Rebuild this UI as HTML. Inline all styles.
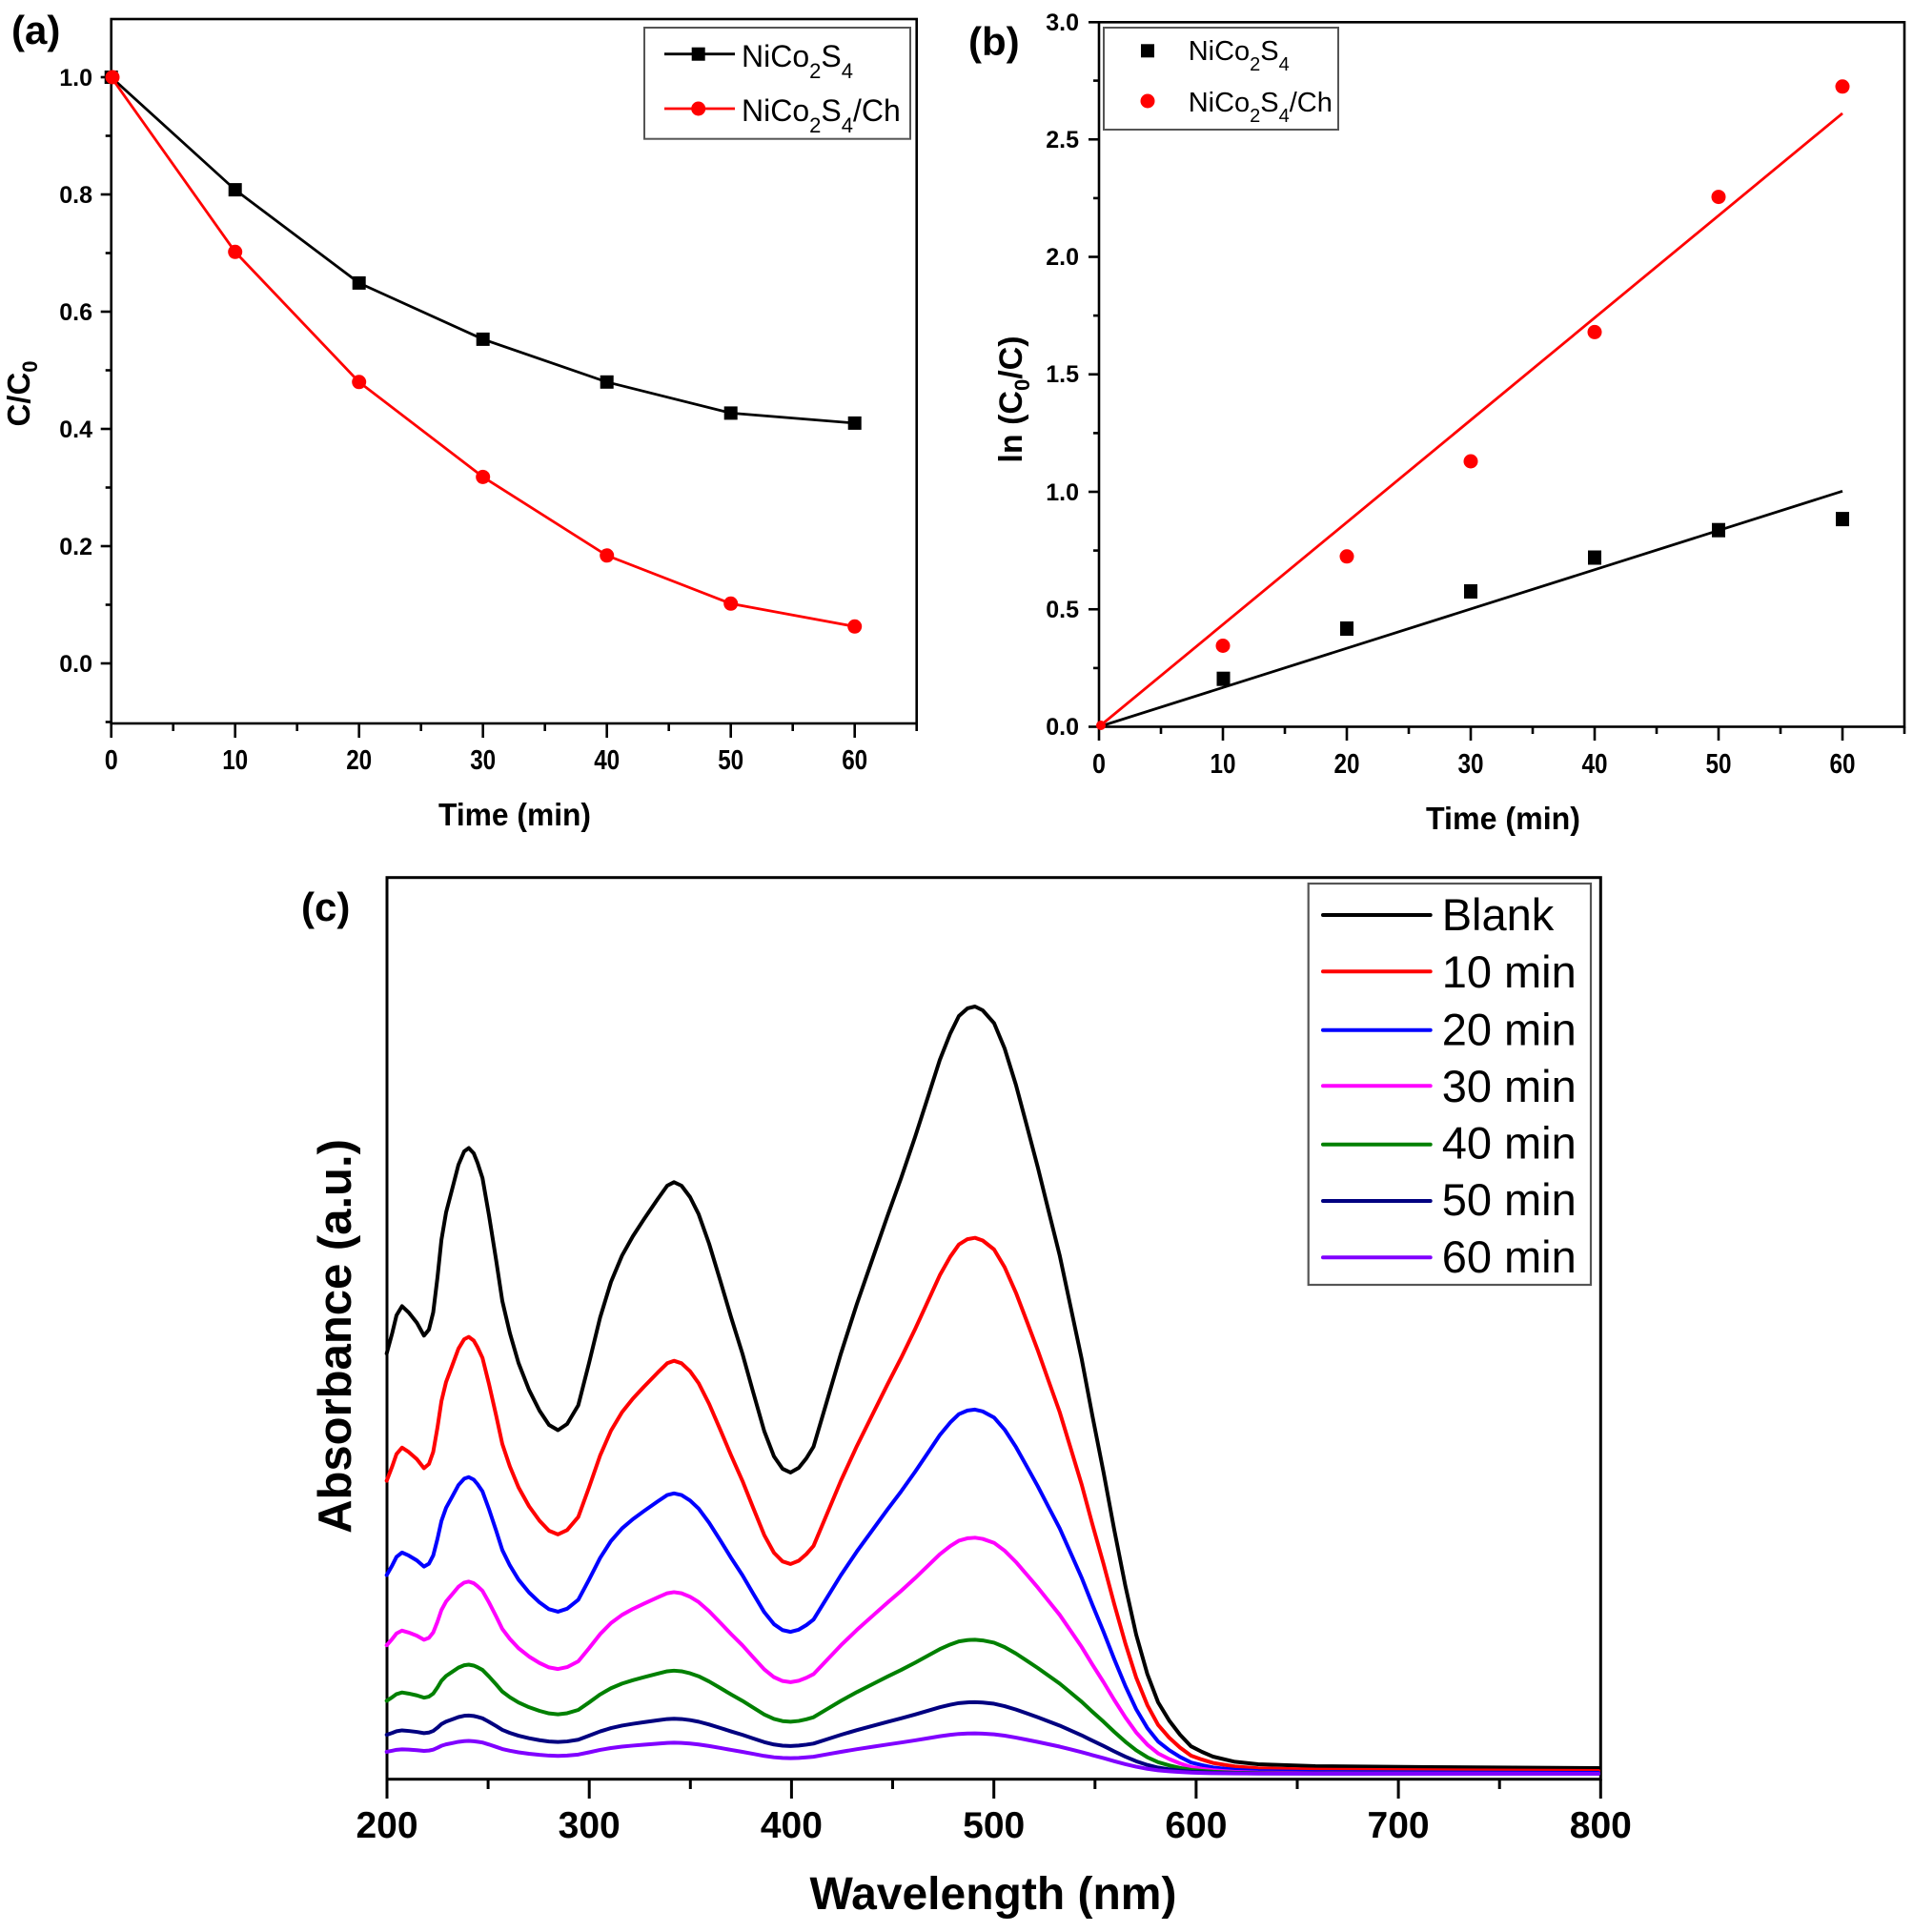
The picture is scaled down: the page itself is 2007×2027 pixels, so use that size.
<!DOCTYPE html>
<html>
<head>
<meta charset="utf-8">
<style>
html,body{margin:0;padding:0;background:#fff;}
svg{display:block;}
text{font-family:"Liberation Sans",Arial,sans-serif;}
</style>
</head>
<body>
<svg width="2007" height="2027" viewBox="0 0 2007 2027" xmlns="http://www.w3.org/2000/svg">
<rect x="0" y="0" width="2007" height="2027" fill="#fff"/>

<!-- ================= Panel (a) ================= -->
<text x="12" y="46" font-size="42" font-weight="bold">(a)</text>
<rect x="116.7" y="20" width="845" height="739" fill="none" stroke="#000" stroke-width="2.6"/>
<g stroke="#000" stroke-width="2.6">
  <line x1="116.7" y1="759" x2="116.7" y2="774"/>
  <line x1="246.7" y1="759" x2="246.7" y2="774"/>
  <line x1="376.7" y1="759" x2="376.7" y2="774"/>
  <line x1="506.7" y1="759" x2="506.7" y2="774"/>
  <line x1="636.7" y1="759" x2="636.7" y2="774"/>
  <line x1="766.7" y1="759" x2="766.7" y2="774"/>
  <line x1="896.7" y1="759" x2="896.7" y2="774"/>
  <line x1="181.7" y1="759" x2="181.7" y2="767"/>
  <line x1="311.7" y1="759" x2="311.7" y2="767"/>
  <line x1="441.7" y1="759" x2="441.7" y2="767"/>
  <line x1="571.7" y1="759" x2="571.7" y2="767"/>
  <line x1="701.7" y1="759" x2="701.7" y2="767"/>
  <line x1="831.7" y1="759" x2="831.7" y2="767"/>
  <line x1="961.7" y1="759" x2="961.7" y2="767"/>
  <line x1="105.7" y1="696" x2="116.7" y2="696"/>
  <line x1="105.7" y1="573" x2="116.7" y2="573"/>
  <line x1="105.7" y1="450" x2="116.7" y2="450"/>
  <line x1="105.7" y1="327" x2="116.7" y2="327"/>
  <line x1="105.7" y1="204" x2="116.7" y2="204"/>
  <line x1="105.7" y1="81" x2="116.7" y2="81"/>
  <line x1="110.7" y1="757.5" x2="116.7" y2="757.5"/>
  <line x1="110.7" y1="634.5" x2="116.7" y2="634.5"/>
  <line x1="110.7" y1="511.5" x2="116.7" y2="511.5"/>
  <line x1="110.7" y1="388.5" x2="116.7" y2="388.5"/>
  <line x1="110.7" y1="265.5" x2="116.7" y2="265.5"/>
  <line x1="110.7" y1="142.5" x2="116.7" y2="142.5"/>
</g>
<g font-size="29" font-weight="bold" text-anchor="middle">
  <text x="116.7" y="807" textLength="14" lengthAdjust="spacingAndGlyphs">0</text>
  <text x="246.7" y="807" textLength="27" lengthAdjust="spacingAndGlyphs">10</text>
  <text x="376.7" y="807" textLength="27" lengthAdjust="spacingAndGlyphs">20</text>
  <text x="506.7" y="807" textLength="27" lengthAdjust="spacingAndGlyphs">30</text>
  <text x="636.7" y="807" textLength="27" lengthAdjust="spacingAndGlyphs">40</text>
  <text x="766.7" y="807" textLength="27" lengthAdjust="spacingAndGlyphs">50</text>
  <text x="896.7" y="807" textLength="27" lengthAdjust="spacingAndGlyphs">60</text>
</g>
<g font-size="25" font-weight="bold" text-anchor="end">
  <text x="97" y="705">0.0</text>
  <text x="97" y="582">0.2</text>
  <text x="97" y="459">0.4</text>
  <text x="97" y="336">0.6</text>
  <text x="97" y="213">0.8</text>
  <text x="97" y="90">1.0</text>
</g>
<text x="540" y="866" font-size="33" font-weight="bold" text-anchor="middle" textLength="160" lengthAdjust="spacingAndGlyphs">Time (min)</text>
<text transform="translate(31,413) rotate(-90)" font-size="33" font-weight="bold" text-anchor="middle">C/C<tspan font-size="22" dy="8">0</tspan></text>

<polyline points="116.7,81 246.7,199.1 376.7,296.9 506.7,355.9 636.7,400.8 766.7,433.4 896.7,443.9" fill="none" stroke="#000" stroke-width="2.8"/>
<g fill="#000">
  <rect x="109.7" y="74" width="14" height="14"/>
  <rect x="239.7" y="192.1" width="14" height="14"/>
  <rect x="369.7" y="289.9" width="14" height="14"/>
  <rect x="499.7" y="348.9" width="14" height="14"/>
  <rect x="629.7" y="393.8" width="14" height="14"/>
  <rect x="759.7" y="426.4" width="14" height="14"/>
  <rect x="889.7" y="436.9" width="14" height="14"/>
</g>
<polyline points="116.7,81 246.7,264.3 376.7,400.8 506.7,500.4 636.7,582.8 766.7,633.3 896.7,657.3" fill="none" stroke="#f00" stroke-width="2.8"/>
<g fill="#f00">
  <circle cx="118" cy="81" r="7.5"/>
  <circle cx="246.7" cy="264.3" r="7.5"/>
  <circle cx="376.7" cy="400.8" r="7.5"/>
  <circle cx="506.7" cy="500.4" r="7.5"/>
  <circle cx="636.7" cy="582.8" r="7.5"/>
  <circle cx="766.7" cy="633.3" r="7.5"/>
  <circle cx="896.7" cy="657.3" r="7.5"/>
</g>
<rect x="676" y="29" width="279" height="116.7" fill="#fff" stroke="#555" stroke-width="2"/>
<line x1="697" y1="56.7" x2="771" y2="56.7" stroke="#000" stroke-width="2.8"/>
<rect x="725.7" y="49.7" width="14" height="14" fill="#000"/>
<line x1="697" y1="114" x2="771" y2="114" stroke="#f00" stroke-width="2.8"/>
<circle cx="732.7" cy="114" r="7.5" fill="#f00"/>
<text x="778" y="70" font-size="32">NiCo<tspan font-size="22" dy="12">2</tspan><tspan dy="-12">S</tspan><tspan font-size="22" dy="12">4</tspan></text>
<text x="778" y="127" font-size="32">NiCo<tspan font-size="22" dy="12">2</tspan><tspan dy="-12">S</tspan><tspan font-size="22" dy="12">4</tspan><tspan dy="-12">/Ch</tspan></text>

<!-- ================= Panel (b) ================= -->
<text x="1016" y="58" font-size="42" font-weight="bold">(b)</text>
<rect x="1153" y="23.3" width="845" height="739.2" fill="none" stroke="#000" stroke-width="2.6"/>
<g stroke="#000" stroke-width="2.6">
  <line x1="1153" y1="762.5" x2="1153" y2="777"/>
  <line x1="1283" y1="762.5" x2="1283" y2="777"/>
  <line x1="1413" y1="762.5" x2="1413" y2="777"/>
  <line x1="1543" y1="762.5" x2="1543" y2="777"/>
  <line x1="1673" y1="762.5" x2="1673" y2="777"/>
  <line x1="1803" y1="762.5" x2="1803" y2="777"/>
  <line x1="1933" y1="762.5" x2="1933" y2="777"/>
  <line x1="1218" y1="762.5" x2="1218" y2="770"/>
  <line x1="1348" y1="762.5" x2="1348" y2="770"/>
  <line x1="1478" y1="762.5" x2="1478" y2="770"/>
  <line x1="1608" y1="762.5" x2="1608" y2="770"/>
  <line x1="1738" y1="762.5" x2="1738" y2="770"/>
  <line x1="1868" y1="762.5" x2="1868" y2="770"/>
  <line x1="1998" y1="762.5" x2="1998" y2="770"/>
  <line x1="1142" y1="762.5" x2="1153" y2="762.5"/>
  <line x1="1142" y1="639.25" x2="1153" y2="639.25"/>
  <line x1="1142" y1="516" x2="1153" y2="516"/>
  <line x1="1142" y1="392.75" x2="1153" y2="392.75"/>
  <line x1="1142" y1="269.5" x2="1153" y2="269.5"/>
  <line x1="1142" y1="146.25" x2="1153" y2="146.25"/>
  <line x1="1142" y1="23.3" x2="1153" y2="23.3"/>
  <line x1="1147" y1="700.9" x2="1153" y2="700.9"/>
  <line x1="1147" y1="577.6" x2="1153" y2="577.6"/>
  <line x1="1147" y1="454.4" x2="1153" y2="454.4"/>
  <line x1="1147" y1="331.1" x2="1153" y2="331.1"/>
  <line x1="1147" y1="207.9" x2="1153" y2="207.9"/>
  <line x1="1147" y1="84.6" x2="1153" y2="84.6"/>
</g>
<g font-size="29" font-weight="bold" text-anchor="middle">
  <text x="1153" y="811" textLength="14" lengthAdjust="spacingAndGlyphs">0</text>
  <text x="1283" y="811" textLength="27" lengthAdjust="spacingAndGlyphs">10</text>
  <text x="1413" y="811" textLength="27" lengthAdjust="spacingAndGlyphs">20</text>
  <text x="1543" y="811" textLength="27" lengthAdjust="spacingAndGlyphs">30</text>
  <text x="1673" y="811" textLength="27" lengthAdjust="spacingAndGlyphs">40</text>
  <text x="1803" y="811" textLength="27" lengthAdjust="spacingAndGlyphs">50</text>
  <text x="1933" y="811" textLength="27" lengthAdjust="spacingAndGlyphs">60</text>
</g>
<g font-size="25" font-weight="bold" text-anchor="end">
  <text x="1132" y="771">0.0</text>
  <text x="1132" y="648">0.5</text>
  <text x="1132" y="525">1.0</text>
  <text x="1132" y="401">1.5</text>
  <text x="1132" y="278">2.0</text>
  <text x="1132" y="155">2.5</text>
  <text x="1132" y="32">3.0</text>
</g>
<text x="1577" y="870" font-size="33" font-weight="bold" text-anchor="middle" textLength="162" lengthAdjust="spacingAndGlyphs">Time (min)</text>
<text transform="translate(1072,419) rotate(-90)" font-size="34" font-weight="bold" text-anchor="middle">ln (C<tspan font-size="22" dy="8">0</tspan><tspan dy="-8">/C)</tspan></text>

<line x1="1153" y1="762.5" x2="1933" y2="515.3" stroke="#000" stroke-width="2.8"/>
<line x1="1153" y1="762.5" x2="1933" y2="118.9" stroke="#f00" stroke-width="2.8"/>
<g fill="#000">
  <rect x="1276.5" y="704.7" width="14" height="15"/>
  <rect x="1406" y="652" width="14" height="15"/>
  <rect x="1536" y="613" width="14" height="15"/>
  <rect x="1666" y="577.5" width="14" height="15"/>
  <rect x="1796" y="548.7" width="14" height="15"/>
  <rect x="1926" y="537.1" width="14" height="15"/>
</g>
<g fill="#f00">
  <circle cx="1155" cy="761" r="5"/>
  <circle cx="1283" cy="677.5" r="7.5"/>
  <circle cx="1413" cy="583.8" r="7.5"/>
  <circle cx="1543" cy="484" r="7.5"/>
  <circle cx="1673" cy="348.4" r="7.5"/>
  <circle cx="1803" cy="206.6" r="7.5"/>
  <circle cx="1933" cy="90.8" r="7.5"/>
</g>
<rect x="1158" y="29" width="246" height="107" fill="#fff" stroke="#555" stroke-width="2"/>
<rect x="1197" y="46.3" width="14" height="14" fill="#000"/>
<circle cx="1204" cy="106" r="7.5" fill="#f00"/>
<text x="1246.7" y="63" font-size="29">NiCo<tspan font-size="20" dy="11">2</tspan><tspan dy="-11">S</tspan><tspan font-size="20" dy="11">4</tspan></text>
<text x="1246.7" y="117" font-size="29">NiCo<tspan font-size="20" dy="11">2</tspan><tspan dy="-11">S</tspan><tspan font-size="20" dy="11">4</tspan><tspan dy="-11">/Ch</tspan></text>

<!-- ================= Panel (c) ================= -->
<text x="316" y="966" font-size="42" font-weight="bold">(c)</text>
<rect x="406" y="920.7" width="1273.3" height="946" fill="none" stroke="#000" stroke-width="3"/>
<g stroke="#000" stroke-width="3">
  <line x1="406" y1="1866.7" x2="406" y2="1887"/>
  <line x1="618.2" y1="1866.7" x2="618.2" y2="1887"/>
  <line x1="830.4" y1="1866.7" x2="830.4" y2="1887"/>
  <line x1="1042.7" y1="1866.7" x2="1042.7" y2="1887"/>
  <line x1="1254.9" y1="1866.7" x2="1254.9" y2="1887"/>
  <line x1="1467.1" y1="1866.7" x2="1467.1" y2="1887"/>
  <line x1="1679.3" y1="1866.7" x2="1679.3" y2="1887"/>
  <line x1="512.1" y1="1866.7" x2="512.1" y2="1877"/>
  <line x1="724.3" y1="1866.7" x2="724.3" y2="1877"/>
  <line x1="936.5" y1="1866.7" x2="936.5" y2="1877"/>
  <line x1="1148.8" y1="1866.7" x2="1148.8" y2="1877"/>
  <line x1="1361" y1="1866.7" x2="1361" y2="1877"/>
  <line x1="1573.2" y1="1866.7" x2="1573.2" y2="1877"/>
</g>
<g font-size="39" font-weight="bold" text-anchor="middle">
  <text x="406" y="1928">200</text>
  <text x="618.2" y="1928">300</text>
  <text x="830.4" y="1928">400</text>
  <text x="1042.7" y="1928">500</text>
  <text x="1254.9" y="1928">600</text>
  <text x="1467.1" y="1928">700</text>
  <text x="1679.3" y="1928">800</text>
</g>
<text x="1042" y="2003" font-size="48" font-weight="bold" text-anchor="middle">Wavelength (nm)</text>
<text transform="translate(368,1402) rotate(-90)" font-size="49" font-weight="bold" text-anchor="middle">Absorbance (a.u.)</text>

<g fill="none" stroke-width="4" stroke-linejoin="round" stroke-linecap="round">
<path stroke="#000" vector-effect="non-scaling-stroke" d="M405.7,1420 L411.5,1398.6 L416,1380 L421.8,1370.4 L428.7,1376.9 L437.3,1387.7 L444.8,1401.3 L450,1395 L454.5,1376.9 L459,1340 L463.1,1301 L468,1272 L474.6,1246.8 L481,1222 L487,1208 L491.8,1204.5 L497,1210 L501,1220 L506.2,1236 L513,1275 L520.6,1322.7 L527,1365 L534.9,1398.6 L544,1430 L555,1458.2 L566,1480 L576,1495 L585.4,1500.5 L595,1494 L606.7,1474.4 L618,1430 L629.6,1382.3 L641,1345 L652.6,1317.3 L664,1297 L675.5,1279.3 L690,1258 L700,1244 L707.1,1240.3 L715,1244 L724,1256 L733,1273.9 L744,1305 L755.9,1344.4 L767,1382 L778.9,1420.2 L790,1460 L801.8,1501.5 L812,1528 L821,1541 L829.4,1544.9 L838,1540 L846,1530 L853.5,1517.8 L867,1472 L882.2,1420.2 L899,1368 L916.6,1317.3 L931,1276 L945.4,1236 L960,1193 L974.1,1149.2 L986,1112 L997,1084.2 L1006,1066 L1015,1058 L1022.9,1056 L1031,1060 L1042.9,1073.4 L1054,1100 L1065.9,1138.4 L1077,1180 L1088.9,1225.1 L1100,1270 L1111.8,1317.3 L1123,1370 L1134.8,1425.7 L1146,1485 L1157.8,1544.9 L1169,1605 L1180.7,1664.1 L1192,1715 L1203.7,1756.3 L1215,1786 L1226.6,1805.1 L1238,1820 L1249.6,1832.2 L1261,1838 L1272.6,1843 L1295.5,1848.4 L1320,1851 L1380,1853 L1500,1854 L1677,1855"/>
<path stroke="#ff0000" vector-effect="non-scaling-stroke" transform="matrix(1 0 0 0.70 0 559.5)" d="M405.7,1420 L411.5,1398.6 L416,1380 L421.8,1370.4 L428.7,1376.9 L437.3,1387.7 L444.8,1401.3 L450,1395 L454.5,1376.9 L459,1340 L463.1,1301 L468,1272 L474.6,1246.8 L481,1222 L487,1208 L491.8,1204.5 L497,1210 L501,1220 L506.2,1236 L513,1275 L520.6,1322.7 L527,1365 L534.9,1398.6 L544,1430 L555,1458.2 L566,1480 L576,1495 L585.4,1500.5 L595,1494 L606.7,1474.4 L618,1430 L629.6,1382.3 L641,1345 L652.6,1317.3 L664,1297 L675.5,1279.3 L690,1258 L700,1244 L707.1,1240.3 L715,1244 L724,1256 L733,1273.9 L744,1305 L755.9,1344.4 L767,1382 L778.9,1420.2 L790,1460 L801.8,1501.5 L812,1528 L821,1541 L829.4,1544.9 L838,1540 L846,1530 L853.5,1517.8 L867,1472 L882.2,1420.2 L899,1368 L916.6,1317.3 L931,1276 L945.4,1236 L960,1193 L974.1,1149.2 L986,1112 L997,1084.2 L1006,1066 L1015,1058 L1022.9,1056 L1031,1060 L1042.9,1073.4 L1054,1100 L1065.9,1138.4 L1077,1180 L1088.9,1225.1 L1100,1270 L1111.8,1317.3 L1123,1370 L1134.8,1425.7 L1146,1485 L1157.8,1544.9 L1169,1605 L1180.7,1664.1 L1192,1715 L1203.7,1756.3 L1215,1786 L1226.6,1805.1 L1238,1820 L1249.6,1832.2 L1261,1838 L1272.6,1843 L1295.5,1848.4 L1320,1851 L1380,1853 L1500,1854 L1677,1855"/>
<path stroke="#0000ff" vector-effect="non-scaling-stroke" transform="matrix(1 0 0 0.477 0 975.2)" d="M405.7,1420 L411.5,1398.6 L416,1380 L421.8,1370.4 L428.7,1376.9 L437.3,1387.7 L444.8,1401.3 L450,1395 L454.5,1376.9 L459,1340 L463.1,1301 L468,1272 L474.6,1246.8 L481,1222 L487,1208 L491.8,1204.5 L497,1210 L501,1220 L506.2,1236 L513,1275 L520.6,1322.7 L527,1365 L534.9,1398.6 L544,1430 L555,1458.2 L566,1480 L576,1495 L585.4,1500.5 L595,1494 L606.7,1474.4 L618,1430 L629.6,1382.3 L641,1345 L652.6,1317.3 L664,1297 L675.5,1279.3 L690,1258 L700,1244 L707.1,1240.3 L715,1244 L724,1256 L733,1273.9 L744,1305 L755.9,1344.4 L767,1382 L778.9,1420.2 L790,1460 L801.8,1501.5 L812,1528 L821,1541 L829.4,1544.9 L838,1540 L846,1530 L853.5,1517.8 L867,1472 L882.2,1420.2 L899,1368 L916.6,1317.3 L931,1276 L945.4,1236 L960,1193 L974.1,1149.2 L986,1112 L997,1084.2 L1006,1066 L1015,1058 L1022.9,1056 L1031,1060 L1042.9,1073.4 L1054,1100 L1065.9,1138.4 L1077,1180 L1088.9,1225.1 L1100,1270 L1111.8,1317.3 L1123,1370 L1134.8,1425.7 L1146,1485 L1157.8,1544.9 L1169,1605 L1180.7,1664.1 L1192,1715 L1203.7,1756.3 L1215,1786 L1226.6,1805.1 L1238,1820 L1249.6,1832.2 L1261,1838 L1272.6,1843 L1295.5,1848.4 L1320,1851 L1380,1853 L1500,1854 L1677,1855"/>
<path stroke="#ff00ff" vector-effect="non-scaling-stroke" transform="matrix(1 0 0 0.31 0 1285.95)" d="M405.7,1420 L411.5,1398.6 L416,1380 L421.8,1370.4 L428.7,1376.9 L437.3,1387.7 L444.8,1401.3 L450,1395 L454.5,1376.9 L459,1340 L463.1,1301 L468,1272 L474.6,1246.8 L481,1222 L487,1208 L491.8,1204.5 L497,1210 L501,1220 L506.2,1236 L513,1275 L520.6,1322.7 L527,1365 L534.9,1398.6 L544,1430 L555,1458.2 L566,1480 L576,1495 L585.4,1500.5 L595,1494 L606.7,1474.4 L618,1430 L629.6,1382.3 L641,1345 L652.6,1317.3 L664,1297 L675.5,1279.3 L690,1258 L700,1244 L707.1,1240.3 L715,1244 L724,1256 L733,1273.9 L744,1305 L755.9,1344.4 L767,1382 L778.9,1420.2 L790,1460 L801.8,1501.5 L812,1528 L821,1541 L829.4,1544.9 L838,1540 L846,1530 L853.5,1517.8 L867,1472 L882.2,1420.2 L899,1368 L916.6,1317.3 L931,1276 L945.4,1236 L960,1193 L974.1,1149.2 L986,1112 L997,1084.2 L1006,1066 L1015,1058 L1022.9,1056 L1031,1060 L1042.9,1073.4 L1054,1100 L1065.9,1138.4 L1077,1180 L1088.9,1225.1 L1100,1270 L1111.8,1317.3 L1123,1370 L1134.8,1425.7 L1146,1485 L1157.8,1544.9 L1169,1605 L1180.7,1664.1 L1192,1715 L1203.7,1756.3 L1215,1786 L1226.6,1805.1 L1238,1820 L1249.6,1832.2 L1261,1838 L1272.6,1843 L1295.5,1848.4 L1320,1851 L1380,1853 L1500,1854 L1677,1855"/>
<path stroke="#008000" vector-effect="non-scaling-stroke" transform="matrix(1 0 0 0.176 0 1534.52)" d="M405.7,1420 L411.5,1398.6 L416,1380 L421.8,1370.4 L428.7,1376.9 L437.3,1387.7 L444.8,1401.3 L450,1395 L454.5,1376.9 L459,1340 L463.1,1301 L468,1272 L474.6,1246.8 L481,1222 L487,1208 L491.8,1204.5 L497,1210 L501,1220 L506.2,1236 L513,1275 L520.6,1322.7 L527,1365 L534.9,1398.6 L544,1430 L555,1458.2 L566,1480 L576,1495 L585.4,1500.5 L595,1494 L606.7,1474.4 L618,1430 L629.6,1382.3 L641,1345 L652.6,1317.3 L664,1297 L675.5,1279.3 L690,1258 L700,1244 L707.1,1240.3 L715,1244 L724,1256 L733,1273.9 L744,1305 L755.9,1344.4 L767,1382 L778.9,1420.2 L790,1460 L801.8,1501.5 L812,1528 L821,1541 L829.4,1544.9 L838,1540 L846,1530 L853.5,1517.8 L867,1472 L882.2,1420.2 L899,1368 L916.6,1317.3 L931,1276 L945.4,1236 L960,1193 L974.1,1149.2 L986,1112 L997,1084.2 L1006,1066 L1015,1058 L1022.9,1056 L1031,1060 L1042.9,1073.4 L1054,1100 L1065.9,1138.4 L1077,1180 L1088.9,1225.1 L1100,1270 L1111.8,1317.3 L1123,1370 L1134.8,1425.7 L1146,1485 L1157.8,1544.9 L1169,1605 L1180.7,1664.1 L1192,1715 L1203.7,1756.3 L1215,1786 L1226.6,1805.1 L1238,1820 L1249.6,1832.2 L1261,1838 L1272.6,1843 L1295.5,1848.4 L1320,1851 L1380,1853 L1500,1854 L1677,1855"/>
<path stroke="#000080" vector-effect="non-scaling-stroke" transform="matrix(1 0 0 0.094 0 1686.63)" d="M405.7,1420 L411.5,1398.6 L416,1380 L421.8,1370.4 L428.7,1376.9 L437.3,1387.7 L444.8,1401.3 L450,1395 L454.5,1376.9 L459,1340 L463.1,1301 L468,1272 L474.6,1246.8 L481,1222 L487,1208 L491.8,1204.5 L497,1210 L501,1220 L506.2,1236 L513,1275 L520.6,1322.7 L527,1365 L534.9,1398.6 L544,1430 L555,1458.2 L566,1480 L576,1495 L585.4,1500.5 L595,1494 L606.7,1474.4 L618,1430 L629.6,1382.3 L641,1345 L652.6,1317.3 L664,1297 L675.5,1279.3 L690,1258 L700,1244 L707.1,1240.3 L715,1244 L724,1256 L733,1273.9 L744,1305 L755.9,1344.4 L767,1382 L778.9,1420.2 L790,1460 L801.8,1501.5 L812,1528 L821,1541 L829.4,1544.9 L838,1540 L846,1530 L853.5,1517.8 L867,1472 L882.2,1420.2 L899,1368 L916.6,1317.3 L931,1276 L945.4,1236 L960,1193 L974.1,1149.2 L986,1112 L997,1084.2 L1006,1066 L1015,1058 L1022.9,1056 L1031,1060 L1042.9,1073.4 L1054,1100 L1065.9,1138.4 L1077,1180 L1088.9,1225.1 L1100,1270 L1111.8,1317.3 L1123,1370 L1134.8,1425.7 L1146,1485 L1157.8,1544.9 L1169,1605 L1180.7,1664.1 L1192,1715 L1203.7,1756.3 L1215,1786 L1226.6,1805.1 L1238,1820 L1249.6,1832.2 L1261,1838 L1272.6,1843 L1295.5,1848.4 L1320,1851 L1380,1853 L1500,1854 L1677,1855"/>
<path stroke="#8000ff" vector-effect="non-scaling-stroke" transform="matrix(1 0 0 0.053 0 1762.7)" d="M405.7,1420 L411.5,1398.6 L416,1380 L421.8,1370.4 L428.7,1376.9 L437.3,1387.7 L444.8,1401.3 L450,1395 L454.5,1376.9 L459,1340 L463.1,1301 L468,1272 L474.6,1246.8 L481,1222 L487,1208 L491.8,1204.5 L497,1210 L501,1220 L506.2,1236 L513,1275 L520.6,1322.7 L527,1365 L534.9,1398.6 L544,1430 L555,1458.2 L566,1480 L576,1495 L585.4,1500.5 L595,1494 L606.7,1474.4 L618,1430 L629.6,1382.3 L641,1345 L652.6,1317.3 L664,1297 L675.5,1279.3 L690,1258 L700,1244 L707.1,1240.3 L715,1244 L724,1256 L733,1273.9 L744,1305 L755.9,1344.4 L767,1382 L778.9,1420.2 L790,1460 L801.8,1501.5 L812,1528 L821,1541 L829.4,1544.9 L838,1540 L846,1530 L853.5,1517.8 L867,1472 L882.2,1420.2 L899,1368 L916.6,1317.3 L931,1276 L945.4,1236 L960,1193 L974.1,1149.2 L986,1112 L997,1084.2 L1006,1066 L1015,1058 L1022.9,1056 L1031,1060 L1042.9,1073.4 L1054,1100 L1065.9,1138.4 L1077,1180 L1088.9,1225.1 L1100,1270 L1111.8,1317.3 L1123,1370 L1134.8,1425.7 L1146,1485 L1157.8,1544.9 L1169,1605 L1180.7,1664.1 L1192,1715 L1203.7,1756.3 L1215,1786 L1226.6,1805.1 L1238,1820 L1249.6,1832.2 L1261,1838 L1272.6,1843 L1295.5,1848.4 L1320,1851 L1380,1853 L1500,1854 L1677,1855"/>
</g>

<rect x="1372.7" y="927" width="296.3" height="421" fill="#fff" stroke="#555" stroke-width="2.2"/>
<g stroke-width="4" stroke-linecap="round">
  <line x1="1388" y1="960" x2="1500.7" y2="960" stroke="#000"/>
  <line x1="1388" y1="1019.3" x2="1500.7" y2="1019.3" stroke="#ff0000"/>
  <line x1="1388" y1="1080.7" x2="1500.7" y2="1080.7" stroke="#0000ff"/>
  <line x1="1388" y1="1139.3" x2="1500.7" y2="1139.3" stroke="#ff00ff"/>
  <line x1="1388" y1="1200.7" x2="1500.7" y2="1200.7" stroke="#008000"/>
  <line x1="1388" y1="1260" x2="1500.7" y2="1260" stroke="#000080"/>
  <line x1="1388" y1="1319.3" x2="1500.7" y2="1319.3" stroke="#8000ff"/>
</g>
<g font-size="47">
  <text x="1512.7" y="976">Blank</text>
  <text x="1512.7" y="1036">10 min</text>
  <text x="1512.7" y="1096.5">20 min</text>
  <text x="1512.7" y="1156">30 min</text>
  <text x="1512.7" y="1215.5">40 min</text>
  <text x="1512.7" y="1275">50 min</text>
  <text x="1512.7" y="1335">60 min</text>
</g>
</svg>
</body>
</html>
